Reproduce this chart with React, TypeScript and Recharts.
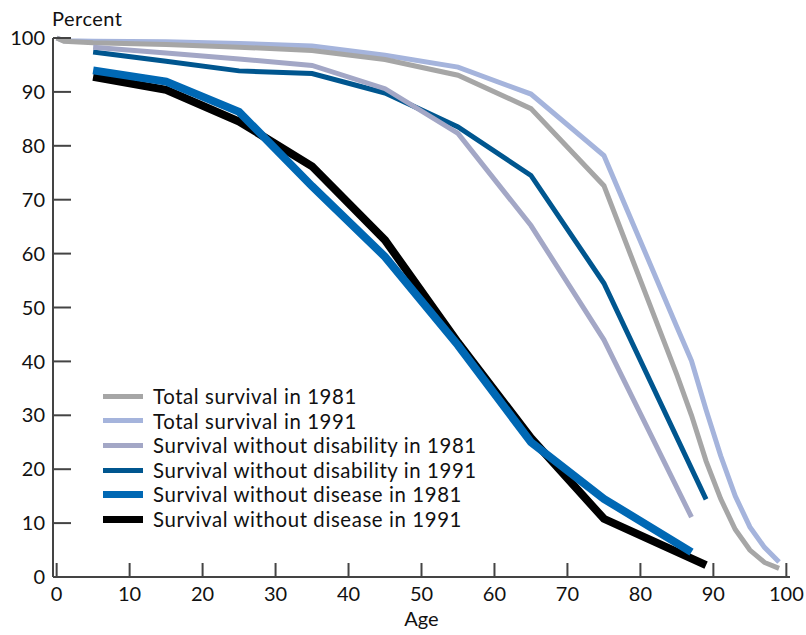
import { LineChart, Line, XAxis, YAxis, Legend, Label } from 'recharts'

// ages where each curve was read
const totalAges = [0, 1, 5, 15, 25, 35, 45, 55, 65, 75, 85, 87, 89, 91, 93, 95, 97, 99]
const total1981 = [100, 99.4, 99.1, 98.8, 98.3, 97.7, 96.0, 93.1, 86.9, 72.6, 37.5, 30, 21.5, 14.5, 8.8, 5.0, 2.7, 1.6]
const total1991 = [100, 99.5, 99.4, 99.3, 99.0, 98.5, 96.8, 94.6, 89.6, 78.2, 46.4, 40.1, 31, 22.5, 15, 9.3, 5.5, 2.8]

const disabilityAges1981 = [5, 15, 25, 35, 45, 55, 65, 75, 87]
const disability1981 = [98.3, 97.2, 96.1, 94.9, 90.6, 82.3, 65.2, 44.0, 11.1]
const disabilityAges1991 = [5, 15, 25, 35, 45, 55, 65, 75, 89]
const disability1991 = [97.4, 95.7, 93.9, 93.4, 89.8, 83.5, 74.5, 54.5, 14.4]

const diseaseAges1981 = [5, 15, 25, 35, 45, 55, 65, 75, 87]
const disease1981 = [94.0, 91.9, 86.3, 72.5, 59.4, 43.0, 25.0, 14.5, 4.6]
const diseaseAges1991 = [5, 15, 25, 35, 45, 55, 65, 75, 89]
const disease1991 = [92.8, 90.4, 84.5, 76.2, 62.5, 43.5, 25.8, 10.8, 2.2]

const xTicks = [0, 10, 20, 30, 40, 50, 60, 70, 80, 90, 100]
const yTicks = [0, 10, 20, 30, 40, 50, 60, 70, 80, 90, 100]

const toPoints = (ages: number[], vals: number[]) => ages.map((age, i) => ({ age, v: vals[i] }))

const series = [
    { name: 'Total survival in 1981', color: '#a6a6a6', width: 5, data: toPoints(totalAges, total1981) },
    { name: 'Total survival in 1991', color: '#a5b4dc', width: 5, data: toPoints(totalAges, total1991) },
    { name: 'Survival without disability in 1981', color: '#a3a7c6', width: 5, data: toPoints(disabilityAges1981, disability1981) },
    { name: 'Survival without disability in 1991', color: '#00568f', width: 5, data: toPoints(disabilityAges1991, disability1991) },
    { name: 'Survival without disease in 1981', color: '#0068b4', width: 8, data: toPoints(diseaseAges1981, disease1981) },
    { name: 'Survival without disease in 1991', color: '#000000', width: 8, data: toPoints(diseaseAges1991, disease1991) },
]

// drawing order: later ones on top
const drawOrder = [1, 0, 3, 2, 5, 4]

const font = 'Lato, sans-serif'
const axisColor = '#444'
const textStyle = { fontSize: 20, fill: '#111', fontFamily: font }

function LegendBox() {
    return (
        <div style={{ fontFamily: font, fontSize: 20.4, letterSpacing: 0.6, color: '#111' }}>
            {series.map((s) => (
                <div key={s.name} style={{ display: 'flex', alignItems: 'center', height: 24.6 }}>
                    <div style={{ width: 40, height: s.width === 8 ? 7 : 5, background: s.color, marginRight: 10, flexShrink: 0 }} />
                    <span style={{ whiteSpace: 'nowrap', lineHeight: '24.6px' }}>{s.name}</span>
                </div>
            ))}
        </div>
    )
}

export default function App() {
    return (
        <div style={{ position: 'absolute', left: 0, top: 0, width: 806, height: 635, background: '#fff' }}>
            <div style={{ position: 'absolute', left: 52, top: 4, fontFamily: font, fontSize: 20, letterSpacing: 0.5, lineHeight: '28px', color: '#111' }}>
                Percent
            </div>
            <LineChart width={806} height={635} margin={{ top: 38, right: 16, bottom: 0, left: 0 }}>
                <XAxis
                    type="number"
                    dataKey="age"
                    domain={[-0.5, 100.5]}
                    ticks={xTicks}
                    allowDuplicatedCategory={false}
                    height={58}
                    tickSize={-14}
                    tickMargin={24}
                    stroke={axisColor}
                    strokeWidth={2}
                    tick={textStyle}
                >
                    <Label value="Age" position="insideBottom" offset={9} style={textStyle} />
                </XAxis>
                <YAxis
                    type="number"
                    domain={[0, 100]}
                    ticks={yTicks}
                    width={53}
                    tickSize={-18}
                    tickMargin={26}
                    stroke={axisColor}
                    strokeWidth={2}
                    tick={textStyle}
                />
                <Legend
                    layout="vertical"
                    align="center"
                    verticalAlign="middle"
                    wrapperStyle={{ left: 103, top: 384, width: 420 }}
                    content={() => <LegendBox />}
                />
                {drawOrder.map((i) => {
                    const s = series[i]
                    return (
                        <Line
                            key={s.name}
                            data={s.data}
                            dataKey="v"
                            name={s.name}
                            type="linear"
                            stroke={s.color}
                            strokeWidth={s.width}
                            dot={false}
                            activeDot={false}
                            isAnimationActive={false}
                        />
                    )
                })}
            </LineChart>
        </div>
    )
}
